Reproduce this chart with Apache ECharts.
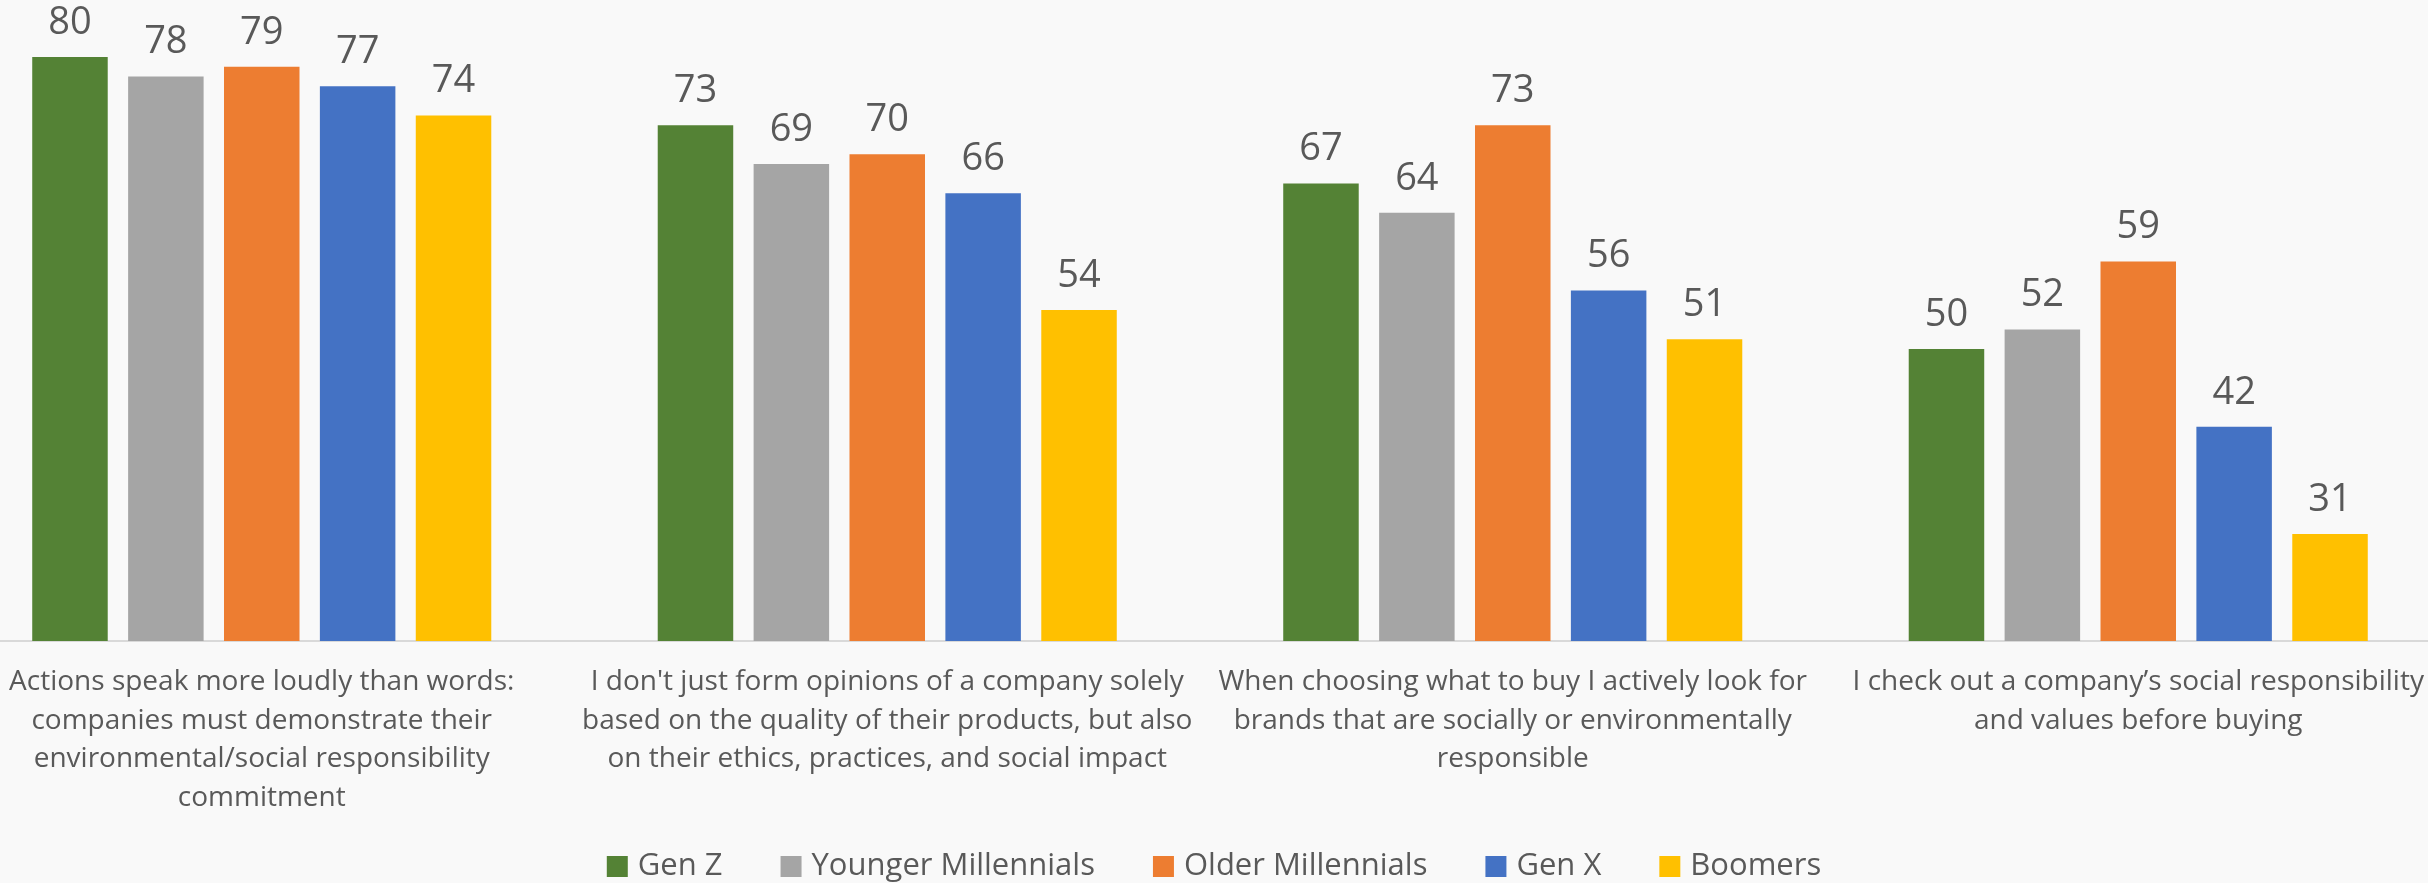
<!DOCTYPE html>
<html>
<head>
<meta charset="utf-8">
<script src="https://cdn.jsdelivr.net/npm/echarts@6/dist/echarts.min.js"></script>
<style>
  html, body { margin: 0; padding: 0; background: #f9f9f9; }
  #chart { width: 2428px; height: 883px; }
</style>
</head>
<body>
<div id="chart"></div>
<script>
// Survey statements (category axis), wrapped as they appear under the bars
const categories = [
  'Actions speak more loudly than words:\ncompanies must demonstrate their\nenvironmental/social responsibility\ncommitment',
  "I don't just form opinions of a company solely\nbased on the quality of their products, but also\non their ethics, practices, and social impact",
  'When choosing what to buy I actively look for\nbrands that are socially or environmentally\nresponsible',
  'I check out a company\u2019s social responsibility\nand values before buying'
];

// Agreement (%) per generation
const genZ = [80, 73, 67, 50];
const youngerMillennials = [78, 69, 64, 52];
const olderMillennials = [79, 70, 73, 59];
const genX = [77, 66, 56, 42];
const boomers = [74, 54, 51, 31];

const seriesNames = ['Gen Z', 'Younger Millennials', 'Older Millennials', 'Gen X', 'Boomers'];
const seriesValues = [genZ, youngerMillennials, olderMillennials, genX, boomers];
const seriesColors = ['#548235', '#A5A5A5', '#ED7D31', '#4472C4', '#FFC000'];

const FONT = '"Open Sans", "Noto Sans", sans-serif';
const TEXT = '#595959';

const chart = echarts.init(document.getElementById('chart'), null, { renderer: 'canvas' });

chart.setOption({
  backgroundColor: '#f9f9f9',
  animation: false,
  textStyle: { fontFamily: FONT },
  grid: {
    left: -51,
    right: -23,
    top: 57,
    bottom: 242,
    containLabel: false,
    outerBoundsMode: 'none'
  },
  legend: {
    data: seriesNames,
    left: 'center',
    top: 846,
    icon: 'rect',
    itemWidth: 21,
    itemHeight: 21,
    itemGap: 58,
    textStyle: { fontFamily: FONT, fontSize: 31, color: TEXT, padding: [0, 0, 0, 5] }
  },
  xAxis: {
    type: 'category',
    data: categories,
    axisLine: { show: true, lineStyle: { color: '#d9d9d9', width: 2 } },
    axisTick: { show: false },
    axisLabel: {
      interval: 0,
      margin: 22,
      fontFamily: FONT,
      fontSize: 28,
      lineHeight: 38.5,
      color: TEXT,
      align: 'center',
      hideOverlap: false
    }
  },
  yAxis: {
    type: 'value',
    min: 20,
    max: 80,
    show: false,
    splitLine: { show: false }
  },
  series: seriesNames.map((name, i) => ({
    name,
    type: 'bar',
    data: seriesValues[i],
    barWidth: 75.5,
    barGap: '27%',
    itemStyle: { color: seriesColors[i] },
    label: {
      show: true,
      position: 'top',
      distance: 15,
      fontFamily: FONT,
      fontSize: 38,
      color: TEXT
    }
  }))
});
</script>
</body>
</html>
